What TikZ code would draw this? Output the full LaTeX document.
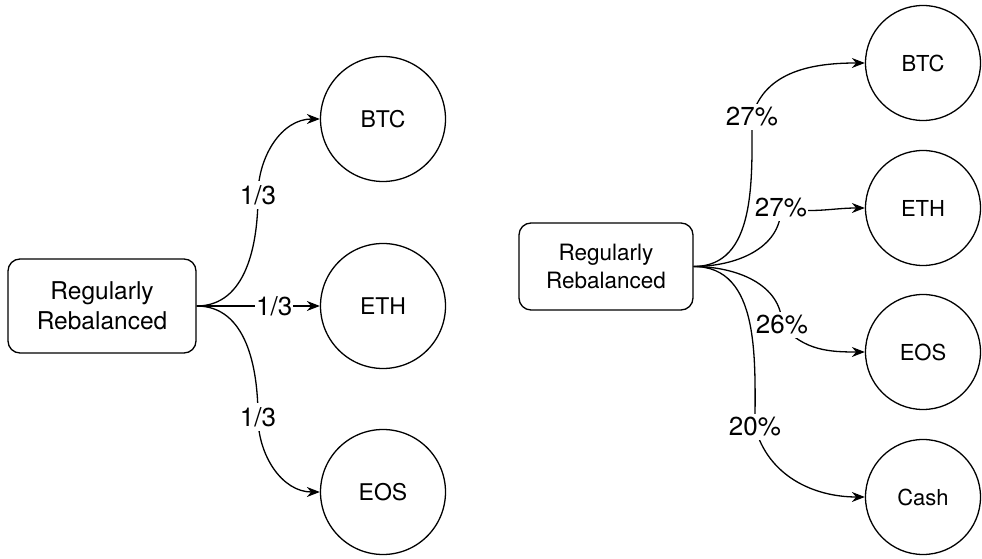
\documentclass[tikz,border=0pt]{standalone}
\usepackage{fontspec}
\setmainfont{TeX Gyre Heros}
\usetikzlibrary{arrows.meta}

\tikzset{
	rebal/.style={draw, rounded corners=12pt, line width=1.3pt, align=center, inner sep=0pt},
	asset/.style={draw, circle, line width=1.3pt, inner sep=0pt},
	weight/.style={fill=white, inner xsep=1pt, inner ysep=4pt, font=\fontsize{26}{28}\selectfont},
	link/.style={-{Stealth[length=13pt, width=10pt]}, line width=1.3pt},
}

\begin{document}
\begin{tikzpicture}[x=1pt, y=1pt]

				\useasboundingbox (0, 0) rectangle (982, 559);

				\node [rebal, minimum width=188pt, minimum height=94pt, font=\fontsize{24.5}{30}\selectfont] (L) at (102, 253) {Regularly\\Rebalanced};

				\node [asset, minimum size=125pt, font=\fontsize{23}{26}\selectfont] (LBTC) at (383, 440) {BTC};
				\node [asset, minimum size=125pt, font=\fontsize{23}{26}\selectfont] (LETH) at (383, 253) {ETH};
				\node [asset, minimum size=125pt, font=\fontsize{23}{26}\selectfont] (LEOS) at (383, 67) {EOS};


				\node [rebal, minimum width=174pt, minimum height=87pt, font=\fontsize{22.5}{28}\selectfont] (R) at (606, 292.5) {Regularly\\Rebalanced};

				\node [asset, minimum size=115pt, font=\fontsize{22}{24}\selectfont] (BTC) at (923, 496) {BTC};
				\node [asset, minimum size=115pt, font=\fontsize{22}{24}\selectfont] (ETH) at (923, 351) {ETH};
				\node [asset, minimum size=115pt, font=\fontsize{22}{24}\selectfont] (EOS) at (923, 207) {EOS};
				\node [asset, minimum size=115pt, font=\fontsize{22}{24}\selectfont] (Cash) at (923, 62) {Cash};


				\draw [link] (L.east) to [out=0, in=-90] (258, 364) node [weight] {1/3} to [out=90, in=180] (LBTC.west);
				\draw [link] (L.east) -- node [weight, pos=0.63] {1/3} (LETH.west);
				\draw [link] (L.east) to [out=0, in=90] (258, 142) node [weight] {1/3} to [out=-90, in=180] (LEOS.west);

				\draw [link] (R.east) to [out=0, in=-90] (752, 442) node [weight] {27\%} to [out=75, in=180] (BTC.west);
				\draw [link] (R.east) to [out=0, in=-90] (781, 351) node [weight] {27\%} to [out=-10, in=180] (ETH.west);
				\draw [link] (R.east) to [out=0, in=90] (782, 234) node [weight] {26\%} to [out=-50, in=180] (EOS.west);
				\draw [link] (R.east) to [out=0, in=90] (755, 132) node [weight] {20\%} to [out=-75, in=180] (Cash.west);
\end{tikzpicture}
\end{document}
